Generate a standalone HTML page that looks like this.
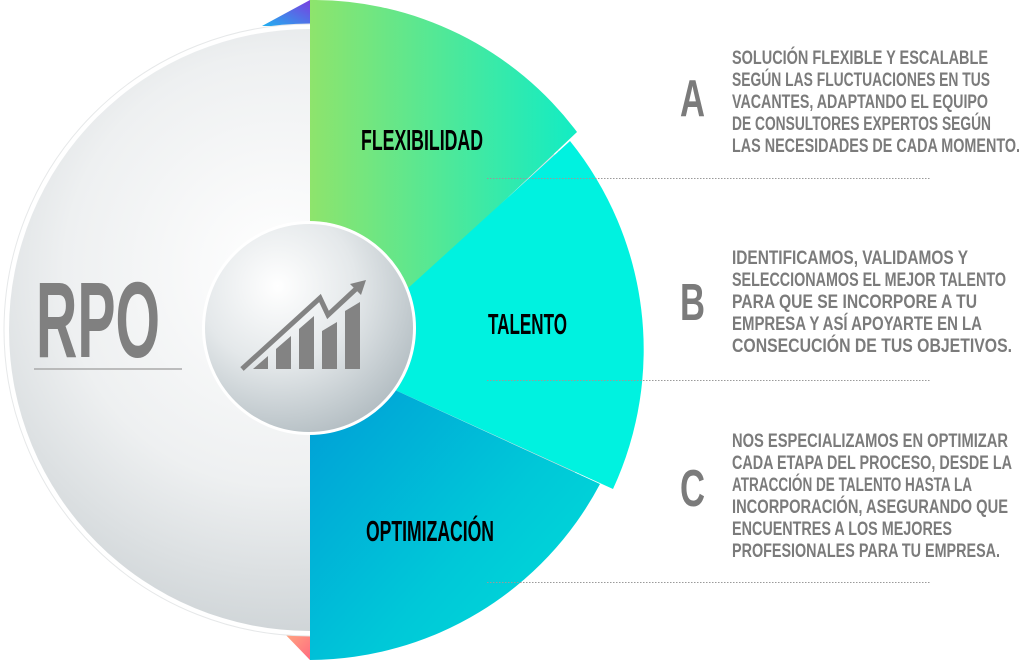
<!DOCTYPE html>
<html><head><meta charset="utf-8"><style>
html,body{margin:0;padding:0;background:#fff;}
svg{display:block;}
text{font-family:"Liberation Sans",sans-serif;font-weight:bold;}
</style></head><body>
<svg width="1024" height="660" viewBox="0 0 1024 660" xmlns="http://www.w3.org/2000/svg">
<defs>
<linearGradient id="gTri" x1="0" y1="1" x2="1" y2="0"><stop offset="0" stop-color="#20b0f0"/><stop offset="1" stop-color="#7a3ee0"/></linearGradient>
<linearGradient id="gTri2" x1="0" y1="0" x2="1" y2="1"><stop offset="0" stop-color="#ffb080"/><stop offset="1" stop-color="#ff6a80"/></linearGradient>
<radialGradient id="gBig" cx="0.45" cy="0.4" r="0.65"><stop offset="0" stop-color="#ffffff"/><stop offset="0.55" stop-color="#eef0f1"/><stop offset="1" stop-color="#cad0d3"/></radialGradient>
<linearGradient id="gGreen" x1="0" y1="0" x2="1" y2="0"><stop offset="0" stop-color="#8ee46c"/><stop offset="1" stop-color="#12ecc4"/></linearGradient>
<linearGradient id="gBlue" x1="0" y1="0" x2="1" y2="1"><stop offset="0" stop-color="#0096d6"/><stop offset="0.6" stop-color="#00c8d8"/><stop offset="1" stop-color="#00e0d8"/></linearGradient>
<radialGradient id="gSmall" cx="0.35" cy="0.3" r="0.75"><stop offset="0" stop-color="#ffffff"/><stop offset="0.5" stop-color="#e4e8ea"/><stop offset="1" stop-color="#b4bec3"/></radialGradient>
</defs>
<polygon points="262,26 310,0 310,26" fill="url(#gTri)"/>
<polygon points="281,630 310,630 310,660" fill="url(#gTri2)"/>
<circle cx="310" cy="330" r="306" fill="#ffffff" stroke="#e6e8e9" stroke-width="1"/>
<circle cx="310" cy="330" r="301" fill="url(#gBig)"/>
<path d="M310,330 L310,0 A330,330 0 0 1 577,132 L410,290 Z" fill="url(#gGreen)"/>
<path d="M395,300 L570,141 A332,332 0 0 1 613,489 L395,390 Z" fill="#00f2e0"/>
<path d="M310,330 L395,390 L600,484 A330,330 0 0 1 310,660 Z" fill="url(#gBlue)"/>
<circle cx="309" cy="328" r="107" fill="#ffffff"/>
<circle cx="309" cy="328" r="104" fill="url(#gSmall)"/>
<g fill="#838383">
<polygon points="253,369 268,369 268,356"/>
<polygon points="276,369 291,369 291,336 276,349"/>
<polygon points="299,369 314,369 314,316 299,329"/>
<polygon points="322,369 337,369 337,322 322,331"/>
<polygon points="345,369 360,369 360,302 345,311"/>
<polyline points="242,369 320,298 328,315 357,288" fill="none" stroke="#838383" stroke-width="5" stroke-linejoin="miter"/>
<polygon points="366,280 350,284 361,295"/>
</g>
<text x="36" y="357" font-size="108" fill="#808080" textLength="124" lengthAdjust="spacingAndGlyphs">RPO</text>
<line x1="34" y1="369" x2="182" y2="369" stroke="#aaaaaa" stroke-width="1.5"/>
<g fill="#000" font-size="29">
<text x="361" y="150" textLength="122" lengthAdjust="spacingAndGlyphs">FLEXIBILIDAD</text>
<text x="488" y="334" textLength="79" lengthAdjust="spacingAndGlyphs">TALENTO</text>
<text x="366" y="541" textLength="128" lengthAdjust="spacingAndGlyphs">OPTIMIZACIÓN</text>
</g>
<g fill="#7b7b7b" font-size="52">
<text x="680" y="116" textLength="25" lengthAdjust="spacingAndGlyphs">A</text>
<text x="680" y="320" textLength="25" lengthAdjust="spacingAndGlyphs">B</text>
<text x="680" y="506" textLength="25" lengthAdjust="spacingAndGlyphs">C</text>
</g>
<g fill="#7b7b7b" font-size="19">
<text x="732" y="64" textLength="256" lengthAdjust="spacingAndGlyphs">SOLUCIÓN FLEXIBLE Y ESCALABLE</text>
<text x="732" y="86" textLength="258" lengthAdjust="spacingAndGlyphs">SEGÚN LAS FLUCTUACIONES EN TUS</text>
<text x="732" y="108" textLength="256" lengthAdjust="spacingAndGlyphs">VACANTES, ADAPTANDO EL EQUIPO</text>
<text x="732" y="130" textLength="259" lengthAdjust="spacingAndGlyphs">DE CONSULTORES EXPERTOS SEGÚN</text>
<text x="732" y="152" textLength="288" lengthAdjust="spacingAndGlyphs">LAS NECESIDADES DE CADA MOMENTO.</text>
<text x="732" y="264" textLength="236" lengthAdjust="spacingAndGlyphs">IDENTIFICAMOS, VALIDAMOS Y</text>
<text x="732" y="286" textLength="274" lengthAdjust="spacingAndGlyphs">SELECCIONAMOS EL MEJOR TALENTO</text>
<text x="732" y="308" textLength="245" lengthAdjust="spacingAndGlyphs">PARA QUE SE INCORPORE A TU</text>
<text x="732" y="330" textLength="250" lengthAdjust="spacingAndGlyphs">EMPRESA Y ASÍ APOYARTE EN LA</text>
<text x="732" y="352" textLength="280" lengthAdjust="spacingAndGlyphs">CONSECUCIÓN DE TUS OBJETIVOS.</text>
<text x="732" y="447" textLength="276" lengthAdjust="spacingAndGlyphs">NOS ESPECIALIZAMOS EN OPTIMIZAR</text>
<text x="732" y="469" textLength="280" lengthAdjust="spacingAndGlyphs">CADA ETAPA DEL PROCESO, DESDE LA</text>
<text x="732" y="491" textLength="240" lengthAdjust="spacingAndGlyphs">ATRACCIÓN DE TALENTO HASTA LA</text>
<text x="732" y="513" textLength="276" lengthAdjust="spacingAndGlyphs">INCORPORACIÓN, ASEGURANDO QUE</text>
<text x="732" y="535" textLength="220" lengthAdjust="spacingAndGlyphs">ENCUENTRES A LOS MEJORES</text>
<text x="732" y="557" textLength="268" lengthAdjust="spacingAndGlyphs">PROFESIONALES PARA TU EMPRESA.</text>
</g>
<g stroke="#9a9a9a" stroke-width="1" stroke-dasharray="1.5,1.5">
<line x1="487" y1="178.5" x2="930" y2="178.5"/>
<line x1="487" y1="380.5" x2="930" y2="380.5"/>
<line x1="487" y1="582.5" x2="930" y2="582.5"/>
</g>
</svg>
</body></html>
